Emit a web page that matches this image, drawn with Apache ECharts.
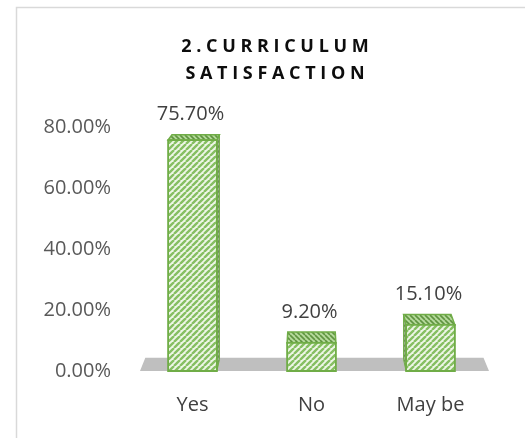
<!DOCTYPE html>
<html>
<head>
<meta charset="utf-8">
<script src="https://cdn.jsdelivr.net/npm/echarts@6/dist/echarts.min.js"></script>
<style>
  html, body { margin: 0; padding: 0; background: #fff; }
  #main { width: 525px; height: 438px; }
</style>
</head>
<body>
<div id="main"></div>
<script>
const categories = ['Yes', 'No', 'May be'];
const values = [75.7, 9.2, 15.1];
const yTicks = [0, 20, 40, 60, 80];
const titleLines = ['2.CURRICULUM', 'SATISFACTION'];

// diagonal stripe pattern, dir 1 = "/", -1 = "\"
function stripes(bg, line, size, width, dir) {
  const c = document.createElement('canvas');
  c.width = c.height = size;
  const ctx = c.getContext('2d');
  ctx.fillStyle = bg;
  ctx.fillRect(0, 0, size, size);
  ctx.strokeStyle = line;
  ctx.lineWidth = width;
  ctx.beginPath();
  for (let o = -size; o <= size; o += size) {
    if (dir > 0) { ctx.moveTo(o, size); ctx.lineTo(o + size, 0); }
    else { ctx.moveTo(o, 0); ctx.lineTo(o + size, size); }
  }
  ctx.stroke();
  return { image: c, repeat: 'repeat' };
}

const frontFill = stripes('#eef6e7', '#86bf62', 6, 2.4, 1);
const topFill = stripes('#b5d99b', '#5f9440', 5, 1.6, -1);
const sideFill = stripes('#9bb58a', '#6e8d5a', 5, 1.6, 1);
const green = '#70ad47';
const labelFont = '20px "Open Sans"';

function vanish(cs) {
  return [cs.x + cs.width / 2, cs.y - 185];
}
function back(p, v, k) {
  return [p[0] + (v[0] - p[0]) * k, p[1] + (v[1] - p[1]) * k];
}

function renderFloor(params, api) {
  const cs = params.coordSys;
  const v = vanish(cs);
  const yb = cs.y + cs.height;
  const fl = [cs.x + 7, yb], fr = [cs.x + cs.width - 1, yb];
  return {
    type: 'polygon',
    shape: { points: [fl, fr, back(fr, v, 0.031), back(fl, v, 0.031)] },
    style: { fill: '#bfbfbf' }
  };
}

function renderBar(params, api) {
  const cs = params.coordSys;
  const v = vanish(cs);
  const idx = api.value(0);
  const val = api.value(1);
  const base = api.coord([idx, 0]);
  const top = api.coord([idx, val]);
  const bw = api.size([1, 0])[0] * 0.41;
  const x0 = base[0] - bw / 2, x1 = base[0] + bw / 2;
  const yt = top[1], yb = base[1];
  const k = 0.027;
  const TL = [x0, yt], TR = [x1, yt], BL = [x0, yb], BR = [x1, yb];
  const children = [];
  if (x1 < v[0] - 5) {
    children.push({ type: 'polygon', shape: { points: [TR, BR, back(BR, v, k), back(TR, v, k)] },
      style: { fill: sideFill, stroke: green, lineWidth: 1 } });
  } else if (x0 > v[0] + 5) {
    children.push({ type: 'polygon', shape: { points: [TL, BL, back(BL, v, k), back(TL, v, k)] },
      style: { fill: sideFill, stroke: green, lineWidth: 1 } });
  }
  const bTL = back(TL, v, k), bTR = back(TR, v, k);
  children.push({ type: 'polygon', shape: { points: [TL, TR, bTR, bTL] },
    style: { fill: topFill, stroke: green, lineWidth: 1.5 } });
  children.push({ type: 'rect', shape: { x: x0, y: yt, width: bw, height: yb - yt },
    style: { fill: frontFill, stroke: green, lineWidth: 1.8 } });
  children.push({ type: 'text', x: base[0] - 2, y: Math.min(bTL[1], bTR[1]) - 10,
    style: { text: val.toFixed(2) + '%', fill: '#404040', font: labelFont,
      textAlign: 'center', textVerticalAlign: 'bottom' } });
  return { type: 'group', children: children };
}

const chart = echarts.init(document.getElementById('main'));

const option = {
  backgroundColor: '#ffffff',
  animation: false,
  title: {
    text: titleLines.map(s => s.split('').join(' ')).join('\n'),
    left: 270,
    top: 28,
    textAlign: 'center',
    textStyle: {
      fontFamily: 'Open Sans',
      fontWeight: 'bold',
      fontSize: 18,
      lineHeight: 27,
      color: '#0d0d0d'
    }
  },
  graphic: [{
    type: 'rect',
    left: 14, top: 5,
    shape: { width: 600, height: 500 },
    style: { fill: 'none', stroke: '#d9d9d9', lineWidth: 1.5 },
    silent: true
  }],
  grid: { left: 133, right: 35, top: 127, bottom: 67 },
  xAxis: {
    type: 'category',
    data: categories,
    axisLine: { show: false },
    axisTick: { show: false },
    axisLabel: { margin: 24, fontFamily: 'Open Sans', fontSize: 20, color: '#404040' }
  },
  yAxis: {
    type: 'value',
    min: yTicks[0],
    max: yTicks[yTicks.length - 1],
    interval: 20,
    splitLine: { show: false },
    axisLine: { show: false },
    axisTick: { show: false },
    axisLabel: {
      margin: 22, fontFamily: 'Open Sans', fontSize: 20, color: '#595959',
      formatter: v => v.toFixed(2) + '%'
    }
  },
  series: [
    {
      type: 'custom',
      name: 'floor',
      z: 1,
      silent: true,
      data: [[0, 0]],
      renderItem: renderFloor
    },
    {
      type: 'custom',
      name: 'Curriculum satisfaction',
      z: 2,
      data: categories.map((c, i) => [i, values[i]]),
      renderItem: renderBar
    }
  ]
};

chart.setOption(option);
</script>
</body>
</html>
